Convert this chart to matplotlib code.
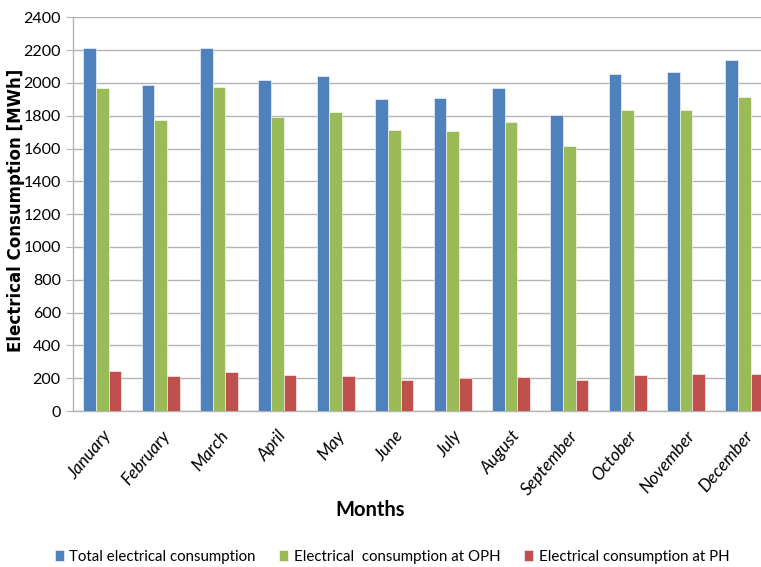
import numpy as np
import matplotlib.pyplot as plt

months = ['January', 'February', 'March', 'April', 'May', 'June', 'July',
          'August', 'September', 'October', 'November', 'December']
total = [2215, 1987, 2210, 2015, 2040, 1899, 1905, 1970, 1804, 2056, 2064, 2137]
oph = [1970, 1771, 1975, 1792, 1824, 1710, 1706, 1763, 1613, 1836, 1836, 1913]
ph = [246, 211, 236, 219, 215, 189, 199, 209, 189, 219, 223, 223]

series = [
    (total, 'Total electrical consumption', '#4F81BD'),
    (oph, 'Electrical  consumption at OPH', '#9BBB59'),
    (ph, 'Electrical consumption at PH', '#C0504D'),
]

plt.rcParams['font.family'] = ['Lato', 'DejaVu Sans']

fig = plt.figure(figsize=(7.61, 5.67), dpi=100)
ax = fig.add_axes([0.0963, 0.2751, 0.92, 0.6944])

x = np.arange(len(months))
w = 0.217
for i, (vals, label, color) in enumerate(series):
    ax.bar(x + (i - 1) * w, vals, w, color=color, label=label,
           edgecolor='white', linewidth=0.4, zorder=3)

ax.set_xlim(-0.5, len(months) - 0.5)
ax.set_ylim(0, 2400)
ax.set_yticks(range(0, 2401, 200))
ax.yaxis.grid(True, color='#b4b4b4', linewidth=1.0, zorder=0)
ax.set_axisbelow(True)

for s in ['top', 'right']:
    ax.spines[s].set_visible(False)
for s in ['left', 'bottom']:
    ax.spines[s].set_color('#b4b4b4')
    ax.spines[s].set_linewidth(1.0)

ax.tick_params(axis='y', length=5, color='#b4b4b4', labelsize=11.5, pad=4)
ax.tick_params(axis='x', length=0, labelsize=12.5, pad=12)
ax.set_xticks(x)
ax.set_xticklabels(months, rotation=50, ha='right', rotation_mode='anchor',
                   style='italic')

ax.set_ylabel('Electrical Consumption [MWh]', fontsize=12, fontweight='bold',
              family='DejaVu Sans')
ax.yaxis.set_label_coords(-0.069, 0.51)
fig.text(0.487, 0.1, 'Months', ha='center', va='center', fontsize=14.5,
         fontweight='bold')

handles, labels = ax.get_legend_handles_labels()
fig.legend(handles, labels, loc='center', bbox_to_anchor=(0.515, 0.018),
           ncol=3, frameon=False, fontsize=10.8, handlelength=0.6,
           handleheight=0.8, handletextpad=0.35, columnspacing=1.6)

fig.savefig('out.png', dpi=100)
